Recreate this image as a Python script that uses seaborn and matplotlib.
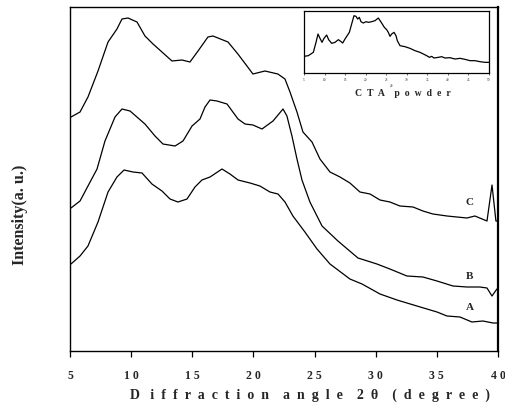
import matplotlib
matplotlib.use("Agg")
import matplotlib.pyplot as plt
import seaborn as sns
import pandas as pd

# ---- data ----
angle_C = [5.08, 5.82, 6.47, 7.29, 8.11, 8.84, 9.25, 9.74, 10.48, 11.13, 11.79, 12.52, 13.34, 14.16,
           14.81, 15.47, 16.28, 16.69, 17.92, 18.73, 19.47, 19.96, 20.94, 22.00, 22.58, 22.99, 23.56,
           24.05, 24.79, 25.44, 26.26, 27.08, 27.89, 28.71, 29.53, 30.35, 31.16, 31.98, 33.05, 33.86,
           34.68, 35.83, 36.64, 37.46, 38.11, 39.10, 39.51, 39.83, 40.0]
int_C = [234, 239, 254, 280, 309, 322, 332, 333, 329, 315, 307, 299, 290, 291, 289, 300, 314, 315,
         309, 297, 285, 277, 280, 277, 272, 259, 239, 219, 209, 192, 179, 174, 168, 159, 157, 151,
         149, 145, 144, 140, 137, 135, 134, 133, 135, 130, 166, 130, 130]

angle_B = [5.08, 5.82, 6.47, 7.21, 7.86, 8.68, 9.25, 9.91, 11.13, 11.95, 12.60, 13.59, 14.24, 14.98,
           15.63, 16.04, 16.45, 17.02, 17.84, 18.74, 19.31, 19.96, 20.70, 21.60, 22.42, 22.74, 23.15,
           23.56, 23.97, 24.62, 25.61, 26.91, 28.55, 30.10, 31.16, 32.55, 33.86, 35.01, 36.32, 37.46,
           38.52, 39.10, 39.51, 39.91]
int_B = [143, 150, 165, 182, 210, 234, 242, 240, 227, 215, 207, 205, 210, 225, 232, 244, 251, 250,
         247, 232, 227, 226, 222, 230, 242, 235, 215, 192, 171, 149, 125, 110, 93, 87, 82, 75, 74, 70,
         65, 64, 64, 63, 55, 62]

angle_A = [5.08, 5.82, 6.47, 7.29, 8.11, 8.84, 9.42, 10.15, 10.89, 11.70, 12.52, 13.18, 13.83, 14.57,
           15.22, 15.79, 16.45, 17.43, 18.08, 18.74, 19.72, 20.53, 21.35, 22.01, 22.58, 23.23, 24.21,
           25.20, 26.26, 27.89, 28.88, 30.35, 31.74, 33.37, 35.01, 35.83, 36.89, 37.87, 38.77, 39.59,
           39.91]
int_A = [87, 95, 105, 129, 159, 174, 181, 179, 178, 167, 160, 152, 149, 152, 164, 171, 174, 182, 177,
         171, 168, 165, 159, 157, 149, 135, 119, 102, 87, 72, 67, 57, 51, 45, 39, 35, 34, 29, 30, 28, 28]

angle_powder = [5.0, 6.05, 7.27, 7.92, 8.41, 8.89, 9.38, 9.86, 10.51, 11.0, 11.73, 12.54, 13.35, 13.92,
                14.41, 14.97, 16.03, 16.59, 17.16, 17.65, 18.05, 18.46, 18.86, 19.43, 20.08, 20.65,
                21.46, 22.27, 23.08, 23.89, 24.54, 25.11, 25.51, 25.92, 26.32, 26.89, 27.38, 27.70,
                28.35, 29.57, 30.78, 32.0, 33.22, 34.03, 34.84, 35.49, 36.05, 36.62, 37.68, 38.49,
                39.30, 40.51, 41.73, 42.95, 44.16, 45.38, 46.59, 47.81, 49.03, 50.0]
int_powder = [50, 52, 62, 92, 117, 104, 92, 104, 114, 100, 89, 92, 100, 95, 90, 102, 122, 147, 172,
              170, 162, 167, 154, 150, 154, 152, 154, 157, 165, 150, 137, 130, 122, 110, 117, 122, 112,
              97, 82, 79, 74, 67, 62, 57, 52, 47, 50, 45, 47, 49, 45, 46, 42, 44, 41, 37, 37, 34, 32, 32]

series_labels = ["A", "B", "C"]
label_pos_x = [37.7, 37.7, 37.7]
label_pos_y = [44, 75, 149]

xticks = [5, 10, 15, 20, 25, 30, 35, 40]
xtick_labels = ["5", "1 0", "1 5", "2 0", "2 5", "3 0", "3 5", "4 0"]
inset_ticks = [5, 10, 15, 20, 25, 30, 35, 40, 45, 50]

# ---- figure ----
sns.set_style("white")
plt.rcParams['font.family'] = ['Liberation Serif', 'DejaVu Serif']

fig = plt.figure(figsize=(5.06, 4.10), dpi=100)
ax = fig.add_axes([70/506, 1-352/410, 428/506, 344/410])

df = pd.concat([
    pd.DataFrame({"angle": angle_A, "intensity": int_A, "sample": "A"}),
    pd.DataFrame({"angle": angle_B, "intensity": int_B, "sample": "B"}),
    pd.DataFrame({"angle": angle_C, "intensity": int_C, "sample": "C"}),
])
sns.lineplot(data=df, x="angle", y="intensity", units="sample", estimator=None,
             color="black", linewidth=0.9, sort=False, ax=ax)

for s, lx, ly in zip(series_labels, label_pos_x, label_pos_y):
    ax.text(lx, ly, s, fontsize=8, fontweight="bold", ha="center", va="center")

ax.set_xlim(5, 40)
ax.set_ylim(0, 344)
ax.set_xticks(xticks)
ax.set_xticklabels(xtick_labels, fontsize=8.5, fontweight="bold")
ax.set_yticks([])
ax.set_xlabel("")
ax.set_ylabel("")
ax.tick_params(axis="x", direction="out", length=4, width=0.9, pad=9, bottom=True, color="black")
for side, sp in ax.spines.items():
    sp.set_visible(True)
    sp.set_color("black")
    sp.set_linewidth(1.0)
ax.spines["right"].set_linewidth(1.6)

fig.text(310/506, 1-395/410,
         "D   i  f  f  r  a  c  t  i  o  n    a  n  g  l  e    2  θ    (  d  e  g  r  e  e  )",
         fontsize=10, fontweight="bold", ha="center", va="center")
fig.text(20/506, 1-215/410, "Intensity(a. u.)", fontsize=11.5, fontweight="bold",
         rotation=90, ha="center", va="center")

# ---- inset ----
axi = fig.add_axes([304/506, 1-74/410, 185/506, 62.3/410])
sns.lineplot(x=angle_powder, y=int_powder, color="black", linewidth=0.9, sort=False, ax=axi)
axi.set_xlim(5, 50)
axi.set_ylim(0, 187)
axi.set_yticks([])
axi.set_xticks(inset_ticks)
axi.set_xticklabels([str(t) for t in inset_ticks], fontsize=2.5)
axi.tick_params(axis="x", direction="out", length=1.5, width=0.5, pad=1.5, bottom=True)
for sp in axi.spines.values():
    sp.set_visible(True)
    sp.set_color("black")
    sp.set_linewidth(0.9)
fig.text(392/506, 1-86/410, "2θ", fontsize=2.5, ha="center", va="center")
fig.text(403/506, 1-93/410, "C  T  A    p  o  w  d  e  r", fontsize=7, fontweight="bold",
         ha="center", va="center")

fig.savefig("out.png", dpi=100)
